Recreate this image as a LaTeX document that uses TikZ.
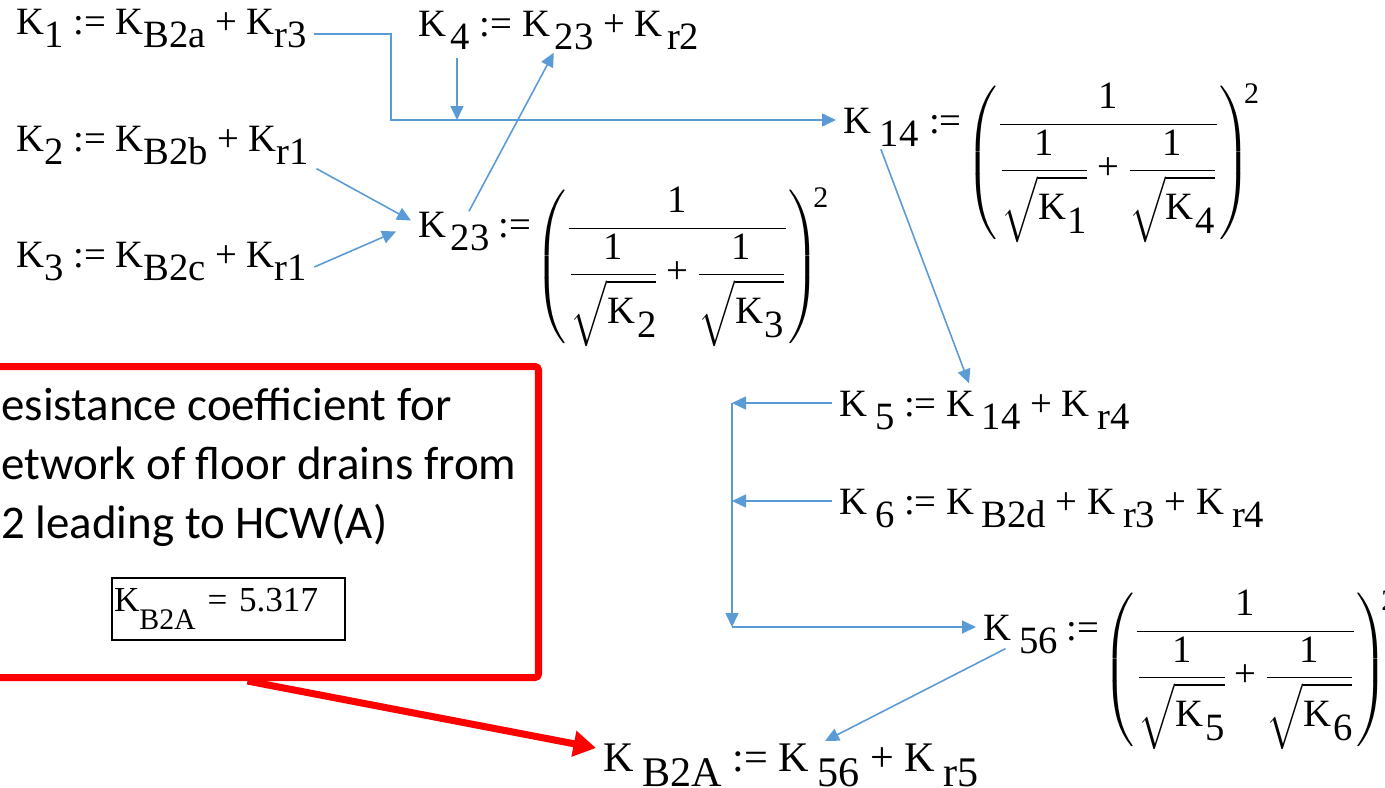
\documentclass[tikz,border=0pt]{standalone}
\usepackage{amsmath}
\usepackage{fontspec}
\setmainfont{Liberation Serif}
\newfontfamily\notefont{Carlito}
\usetikzlibrary{arrows.meta,calc}

\definecolor{linkblue}{RGB}{91,155,213}

% K with a lowered, full size index (Mathcad look)
\newcommand{\K}[2][0.12em]{\mbox{K\kern#1\raisebox{-0.36em}{#2}}}
% (1/den)^2 with the brackets centred on the fraction
\newsavebox{\fracbox}
\newcommand{\pfrac}[2]{%
  \sbox{\fracbox}{$\displaystyle\frac{#1}{#2}$}%
  \raisebox{\dimexpr(\ht\fracbox-\dp\fracbox)/2-0.25em\relax}%
    {$\left(\vcenter{\hbox{\usebox{\fracbox}}}\right)^{\kern-4pt
      \raisebox{-6pt}{\fontsize{17}{20}\selectfont 2}}$}}
\newcommand{\inv}[1]{\dfrac{\text{1}}{\sqrt{#1\rule[-0.6em]{0pt}{1.6em}}}}

\tikzset{
    eq/.style={inner sep=0.14cm, font=\fontsize{22}{26}\selectfont},
    eqbig/.style={eq, font=\fontsize{24}{28}\selectfont},
    flow/.style={-{Triangle[length=0.28cm,width=0.26cm]}, draw=linkblue,
                 line width=0.9pt},
    pointer/.style={-{Triangle[length=0.45cm,width=0.5cm]}, draw=red,
                    line width=4pt},
    notebox/.style={draw=red, line width=4pt, rounded corners=2pt,
                    minimum width=11.64cm, minimum height=6.22cm},
    notetext/.style={inner sep=0pt, align=left,
                     font=\notefont\fontsize{26.7}{33.5}\selectfont},
    result/.style={draw, line width=1.1pt, inner xsep=0.04cm, inner ysep=0pt,
                   text width=4.58cm, align=left, minimum height=1.24cm,
                   font=\fontsize{20}{24}\selectfont},
}

\begin{document}
\begin{tikzpicture}
    \useasboundingbox (0,0) rectangle (27.7,-15.76);
    \clip (0,0) rectangle (27.7,-15.76);

    % left column
    \node[eq, anchor=base west] (k1) at (0.18,-0.68)
        {\K[0pt]{1} := \K[0pt]{B2a} + \K[0pt]{r3}};
    \node[eq, anchor=base west] (k2) at (0.18,-3.02)
        {\K[0pt]{2} := \K[0pt]{B2b} + \K[0pt]{r1}};
    \node[eq, anchor=base west] (k3) at (0.18,-5.34)
        {\K[0pt]{3} := \K[0pt]{B2c} + \K[0pt]{r1}};

    % middle column
    \node[eq, anchor=base west] (k4) at (8.22,-0.72)
        {\K{4} := \K{23} + \K{r2}};
    \node[eq, anchor=base west] (k23) at (8.22,-4.74) {\K{23}};
    \node[eq, anchor=base west, inner sep=0pt] (f23)
        at ([xshift=0.02cm]k23.base east)
        {:=\kern0.1em\pfrac{\text{1}}{\inv{\K[0.05em]{2}} \mathbin{\text{+}} \inv{\K[0.05em]{3}}}};

    % right column
    \node[eq, anchor=base west] (k14) at (16.72,-2.66) {\K[0.22em]{14}};
    \node[eq, anchor=base west, inner sep=0pt] (f14)
        at ([xshift=0.06cm]k14.base east)
        {:=\kern0.1em\pfrac{\text{1}}{\inv{\K[0.05em]{1}} \mathbin{\text{+}} \inv{\K[0.05em]{4}}}};
    \node[eq, anchor=base west] (k5) at (16.64,-8.32)
        {\K[0.2em]{5} := \K[0.2em]{14} + \K[0.2em]{r4}};
    \node[eq, anchor=base west] (k6) at (16.64,-10.28)
        {\K[0.2em]{6} := \K[0.2em]{B2d} + \K[0.2em]{r3} + \K[0.2em]{r4}};
    \node[eq, anchor=base west] (k56) at (19.52,-12.8) {\K[0.2em]{56}};
    \node[eq, anchor=base west, inner sep=0pt] (f56)
        at ([xshift=0.02cm]k56.base east)
        {:=\kern0.1em\pfrac{\text{1}}{\inv{\K[0.05em]{5}} \mathbin{\text{+}} \inv{\K[0.05em]{6}}}};
    \node[eqbig, anchor=base west] (kb2a) at (11.92,-15.42)
        {\K[0.2em]{B2A} := \K[0.2em]{56} + \K[0.2em]{r5}};

    % note
    \node[notebox, anchor=north east] (note) at (10.84,-7.26) {};
    \node[notetext, anchor=base west] (desc) at (0.02,-10.76)
        {esistance coefficient for\\etwork of floor drains from\\2 leading to HCW(A)};
    \node[result] (result) at (4.57,-12.18)
        {K\raisebox{-0.5em}{\fontsize{17}{20}\selectfont B2A} = 5.317};

    \coordinate (k14in) at ([yshift=0.26cm]k14.base west);
    \coordinate (k5in) at ([yshift=0.26cm]k5.base west);
    \coordinate (k6in) at ([yshift=0.26cm]k6.base west);
    \coordinate (k56in) at ([yshift=0.26cm]k56.base west);
    \coordinate (rail) at ([xshift=-2cm]k5in);
    \coordinate (k4foot) at ([xshift=0.92cm]k4.south west);

    \draw[flow] (k1.base east) -- ++(1.54,0) |- (k14in);
    \draw[flow] (k4foot) -- (k4foot |- k14in);
    \draw[flow] ([xshift=0.3cm,yshift=-0.14cm]k23.north)
        -- ([xshift=-0.1cm,yshift=0.1cm]k4.south);
    \draw[flow] ([yshift=0.08cm]k2.south east) -- ([yshift=0.22cm]k23.west);
    \draw[flow] (k3.base east) -- ([xshift=-0.3cm]k23.west);
    \draw[flow] ([yshift=0.1cm]k14.south) -- ([xshift=2.74cm]k5.north west);
    \draw[flow] (k5in) -- (rail);
    \draw[flow] (k6in) -- (k6in -| rail);
    \draw[flow] (rail) -- (rail |- k56in);
    \draw[flow] (rail |- k56in) -- (k56in);
    \draw[flow] ([xshift=-0.3cm,yshift=0.26cm]k56.south)
        -- ([xshift=4.58cm,yshift=-0.1cm]kb2a.north west);
    \draw[pointer] (note.south) -- ([yshift=0.46cm]kb2a.base west);

\end{tikzpicture}
\end{document}
